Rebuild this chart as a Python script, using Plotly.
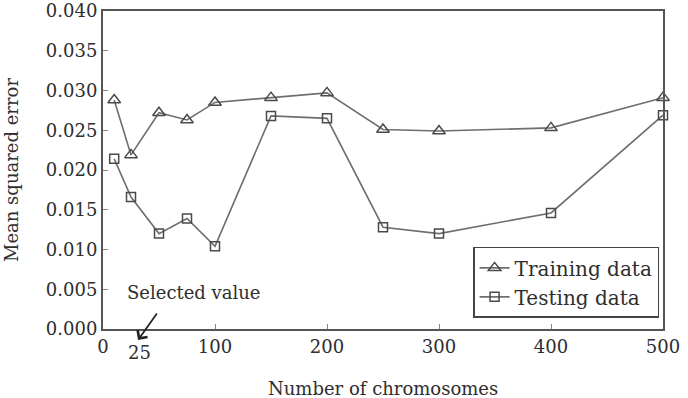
import plotly.graph_objects as go

chromosomes = [10, 25, 50, 75, 100, 150, 200, 250, 300, 400, 500]
training_mse = [0.0288, 0.0219, 0.0272, 0.0263, 0.0285, 0.0291, 0.0297, 0.0251, 0.0249, 0.0253, 0.0291]
testing_mse = [0.0214, 0.0166, 0.0120, 0.0139, 0.0104, 0.0268, 0.0265, 0.0128, 0.0120, 0.0146, 0.0269]
x_ticks = [0, 100, 200, 300, 400, 500]
y_ticks = [0.000, 0.005, 0.010, 0.015, 0.020, 0.025, 0.030, 0.035, 0.040]

FONT = "DejaVu Serif"
TXT = "#2e2e2e"
LINE = "#6e6e6e"
EDGE = "#4a4a4a"
FS = 18

fig = go.Figure()
fig.add_trace(go.Scatter(
    x=chromosomes, y=training_mse, mode="lines+markers", name="Training data",
    line=dict(color=LINE, width=1.6),
    marker=dict(symbol="triangle-up-open", size=11, color=EDGE, line=dict(width=1.5)),
    cliponaxis=False,
))
fig.add_trace(go.Scatter(
    x=chromosomes, y=testing_mse, mode="lines+markers", name="Testing data",
    line=dict(color=LINE, width=1.6),
    marker=dict(symbol="square-open", size=9, color=EDGE, line=dict(width=1.5)),
    cliponaxis=False,
))

fig.update_layout(
    width=688, height=398,
    margin=dict(l=103, r=25, t=11, b=69),
    plot_bgcolor="white", paper_bgcolor="white",
    font=dict(family=FONT, size=FS, color=TXT),
    showlegend=True,
    legend=dict(
        x=0.993, y=0.035, xanchor="right", yanchor="bottom",
        bordercolor="#444444", borderwidth=1.5, bgcolor="white",
        font=dict(family=FONT, size=20, color=TXT),
        tracegroupgap=0,
    ),
    xaxis=dict(
        range=[0, 500], tickvals=x_ticks, ticktext=[str(v) for v in x_ticks],
        showgrid=False, zeroline=False, automargin=False,
        showline=True, linecolor="#555555", linewidth=2, mirror=True,
        ticks="inside", ticklen=5, tickcolor="#888888", tickwidth=1,
        tickfont=dict(family=FONT, size=FS, color=TXT),
    ),
    yaxis=dict(
        range=[0, 0.040], tickvals=y_ticks, ticktext=[f"{v:.3f}" for v in y_ticks],
        showgrid=False, zeroline=False, automargin=False,
        showline=True, linecolor="#555555", linewidth=2, mirror=True,
        ticks="inside", ticklen=5, tickcolor="#888888", tickwidth=1,
        tickfont=dict(family=FONT, size=FS, color=TXT),
        title=dict(text="Mean squared error", font=dict(family=FONT, size=FS, color=TXT), standoff=23),
    ),
)

fig.add_annotation(
    x=0.5, y=-0.186, xref="paper", yref="paper", text="Number of chromosomes",
    xanchor="center", yanchor="middle",
    showarrow=False, font=dict(family=FONT, size=FS, color=TXT),
)
fig.add_annotation(
    x=0.1625, y=0.116, xref="paper", yref="paper", text="Selected value",
    xanchor="center", yanchor="middle",
    showarrow=False, font=dict(family=FONT, size=FS, color=TXT),
)
fig.add_annotation(
    x=0.0625, y=-0.0346, xref="paper", yref="paper", text="",
    showarrow=True, ax=20, ay=-28, arrowhead=4, arrowsize=1.3, arrowwidth=1.8, arrowcolor="#222222",
)
fig.add_annotation(
    x=0.066, y=-0.075, xref="paper", yref="paper", text="25",
    xanchor="center", yanchor="middle",
    showarrow=False, font=dict(family=FONT, size=FS, color=TXT),
)

fig.write_html("out.html")
